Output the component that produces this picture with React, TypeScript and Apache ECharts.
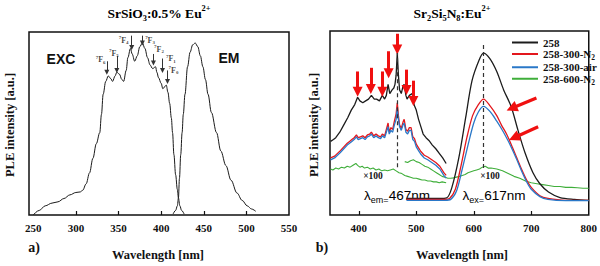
import { useEffect, useRef } from 'react';
import * as echarts from 'echarts';

const SERIF = '"Liberation Serif", "Times New Roman", serif';
const SANS = '"Liberation Sans", Arial, sans-serif';
const INK = '#111111';

// ---------- panel a: SrSiO3:0.5% Eu2+ ----------
const TICKS_A = [250, 300, 350, 400, 450, 500, 550];
const INNER_TICKS_A = [300, 350, 400, 450, 500];

// excitation spectrum [wavelength nm, intensity]
const EXC_A: [number, number][] = [
  [250, 0], [257, 2.5], [264, 5], [272, 6.5], [279, 7.2], [286, 9], [293, 11], [300, 12.3],
  [305, 12.6], [308, 13.5], [312, 17], [316, 23], [320, 31], [324, 39], [328, 45], [330, 55],
  [332, 66], [335, 73], [338, 76], [341, 74.5], [343, 73], [346, 76], [348, 78], [351, 77],
  [354, 74], [356, 73], [359, 79], [361, 86], [364, 91], [366, 88], [369, 84], [372, 87],
  [375, 92], [378, 94], [381, 91], [384, 86], [387, 82], [390, 80], [393.5, 81], [395, 78],
  [397, 75], [400, 72], [402, 69], [404, 70], [406, 71], [408, 67], [410, 61], [412, 53],
  [413.4, 45], [415, 33], [417, 22], [419, 14], [420.3, 9.3], [422, 5], [424, 2.5], [427, 0.5],
];

// emission spectrum [wavelength nm, intensity]
const EM_A: [number, number][] = [
  [414, 0.5], [417, 2.5], [419, 5], [420.3, 9.3], [421.5, 20], [423, 33], [424.6, 45], [426, 55],
  [428, 66], [431, 81], [434, 89], [437, 93], [440, 94], [443, 92], [446, 87], [449, 81],
  [452, 74], [455, 66], [459, 56], [465, 45], [470, 35], [476, 27], [482, 19], [489, 12],
  [495, 8], [501, 5], [506, 3.3], [511, 2],
];

// 7F_J arrows: [wavelength, top, tip]
const F_ARROWS_A: [number, number, number][] = [
  [336.3, 84, 78], [348, 87, 79], [365.5, 98, 91.5], [378, 98, 94], [391, 88, 83], [401.6, 85.5, 79], [407.5, 79, 73],
];
// 7F_J labels: [wavelength, height, J]
const F_LABELS_A: [number, number, string][] = [
  [329, 84.7, '6'], [344.5, 88.5, '5'], [356, 95.5, '4'], [387, 95.6, '3'], [397.5, 90.5, '2'], [411.5, 85.5, '1'], [414.5, 79, '0'],
];

// ---------- panel b: Sr2Si5N8:Eu2+ ----------
const TICKS_B = [400, 500, 600, 700, 800];
const INNER_TICKS_B = [400, 500, 600, 700];

const SAMPLES = ['258', '258-300-N2', '258-300-air', '258-600-N2'];
const SAMPLE_COLORS = ['#1c1c1c', '#e3171d', '#2a78c8', '#3fae3a'];

const EXC_258: [number, number][] = [
  [351, 40], [356, 41], [360, 42], [367, 45], [374, 49], [381, 53], [387, 57], [393, 60],
  [398, 64], [402, 62], [407, 61], [412, 62], [417, 63], [422, 65], [427, 63], [431, 63],
  [436, 62], [441, 65], [445, 63], [448, 65], [451, 71], [454, 66], [458, 68], [461, 69],
  [463, 71], [465, 76], [467, 88], [469, 76], [471, 68], [474, 66], [477, 70], [479, 71],
  [482, 65], [484, 63], [488, 65], [493, 66], [496, 60], [500, 57], [504, 52], [508, 48],
  [512, 44], [517, 42], [522, 40.5], [528, 38], [534, 36], [540, 33.5], [546, 31], [552, 28],
];
const EM_258: [number, number][] = [
  [483, 9], [500, 9], [520, 9], [540, 9], [553, 9.3], [562, 15], [574, 31], [586, 53],
  [597, 73], [609, 84], [617, 88], [628, 85], [640, 78], [652, 68], [665, 59], [677, 46],
  [689, 34], [703, 23], [715, 17], [730, 12.5], [750, 9.5], [775, 8.5], [800, 8],
];
const EXC_300N2: [number, number][] = [
  [351, 31], [358, 32], [363, 33.5], [368, 35], [374, 37], [380, 39], [384, 40], [388, 41],
  [392, 42], [396, 43.5], [399, 42], [403, 42.5], [407, 43], [411, 42], [415, 43.5], [419, 44],
  [422, 45], [426, 43], [430, 44], [434, 43], [438, 42.5], [441, 44], [445, 43], [448, 46.5],
  [451, 50], [453, 45], [456, 47.5], [459, 46.5], [462, 51], [465, 55], [467, 61], [469, 54],
  [471, 49], [474, 47], [477, 50.5], [479, 52], [482, 46.5], [485, 45.5], [488, 47.5], [491, 47.5],
  [494, 42.5], [497, 41.5], [500, 38.5], [504, 36.5], [508, 34.5], [514, 32.5], [520, 31.5],
  [527, 30], [534, 28.5], [541, 26.5], [548, 23], [552, 21.5],
];
const EM_300N2: [number, number][] = [
  [483, 8.5], [520, 8.5], [550, 8.5], [558, 9], [568, 14], [578, 27], [588, 42], [598, 54],
  [608, 60], [617, 63], [629, 59], [640, 54], [648, 49], [657, 44], [665, 38.5], [675, 31],
  [683, 25], [692, 19], [700, 15], [715, 10.5], [729, 9], [760, 8], [800, 8],
];
const EXC_300AIR: [number, number][] = [
  [351, 30], [358, 31], [363, 32.5], [368, 34], [374, 36], [380, 38], [384, 39], [388, 40],
  [392, 41], [396, 42.5], [399, 41], [403, 41.5], [407, 42], [411, 41], [415, 42.5], [419, 43],
  [422, 44], [426, 42], [430, 43], [434, 42], [438, 41.5], [441, 43], [445, 42], [448, 45],
  [451, 48], [453, 44], [456, 46], [459, 45], [462, 49], [465, 52], [467, 58], [469, 52],
  [471, 48], [474, 46], [477, 49], [479, 50], [482, 45], [485, 44], [488, 46], [491, 46],
  [494, 41], [497, 40], [500, 37], [504, 35], [508, 33], [514, 31], [520, 30], [527, 28.5],
  [534, 27], [541, 25], [548, 21.5], [552, 20],
];
const EM_300AIR: [number, number][] = [
  [483, 8], [520, 8], [550, 8], [560, 8.5], [570, 13], [580, 25], [590, 38], [600, 50],
  [608, 56], [617, 59], [629, 56], [640, 51], [648, 47], [657, 42], [665, 37], [675, 30],
  [683, 24], [692, 18], [700, 14], [715, 10], [729, 8.5], [760, 7.8], [800, 7.8],
];
const EXC_600N2: [number, number][] = [
  [351, 25], [355, 24.5], [360, 25.5], [365, 25], [370, 26], [375, 25.5], [380, 26.5], [385, 26],
  [390, 27], [395, 28], [398, 27], [402, 26], [406, 26.5], [410, 25.5], [415, 26], [420, 25],
  [425, 25.5], [430, 24.5], [435, 25], [440, 24], [445, 24.5], [450, 24], [455, 24.5], [460, 25],
  [465, 24], [470, 23], [475, 22.5], [480, 21.5], [485, 21], [490, 20.5], [495, 20], [500, 20],
  [505, 19.5], [510, 19], [515, 19], [520, 18.5], [525, 18.5], [530, 18], [535, 18], [540, 17.5],
  [545, 18], [552, 17.5],
];
const EM_600N2: [number, number][] = [
  [480, 29], [485, 28.5], [490, 29.5], [495, 30], [500, 29], [505, 28.5], [510, 27.5], [515, 26.5],
  [520, 26], [525, 25], [530, 24], [535, 23], [540, 22], [545, 21], [550, 20.5], [555, 20],
  [560, 20], [565, 20.2], [570, 20.6], [575, 21], [580, 21.5], [585, 22], [590, 23], [595, 23.5],
  [600, 24], [605, 24.5], [610, 25], [615, 26], [620, 26.5], [625, 25.5], [630, 25.5], [640, 25],
  [650, 24], [660, 22.5], [670, 21], [680, 20], [690, 18.5], [700, 17.5], [710, 17], [720, 16.5],
  [730, 16], [740, 15.5], [750, 15.5], [760, 15], [770, 15], [780, 14.8], [790, 14.5], [800, 14.5],
];

const EM_LAMBDA = 467; // monitored emission wavelength
const EX_LAMBDA = 617; // excitation wavelength
const EM_GUIDE: [number, number] = [26, 88];
const EX_GUIDE: [number, number] = [25.5, 94];

// red markers: [wavelength, top, tip]
const RED_DOWN_ARROWS: [number, number, number][] = [
  [398, 78, 67], [421, 80, 68.5], [441, 78, 67], [452, 89, 77], [467, 98.5, 90], [483, 79, 68], [495, 73, 62],
];
// red markers: [tail x, tail y, tip x, tip y]
const RED_SIDE_ARROWS: [number, number, number, number][] = [
  [709, 63.6, 666, 58],
  [712, 48, 670, 42],
];

const bold = { fontFamily: SERIF, fontWeight: 'bold' as const, fill: INK };

const scriptRich = (size: number, lh: number) => ({
  t: { fontFamily: SERIF, fontWeight: 'bold', fontSize: size, lineHeight: lh, color: INK },
  sub: { fontFamily: SERIF, fontWeight: 'bold', fontSize: size * 0.62, lineHeight: lh, verticalAlign: 'bottom', color: INK },
  sup: { fontFamily: SERIF, fontWeight: 'bold', fontSize: size * 0.62, lineHeight: lh, verticalAlign: 'top', color: INK },
});

const lambdaRich = {
  b: { fontFamily: SANS, fontSize: 13.5, lineHeight: 18, color: INK },
  s: { fontFamily: SANS, fontSize: 9, lineHeight: 18, verticalAlign: 'bottom', color: INK },
};

function lineSeries(name: string, color: string, data: [number, number][], extra: any = {}) {
  return {
    type: 'line',
    name,
    xAxisIndex: 1,
    yAxisIndex: 1,
    data,
    showSymbol: false,
    symbol: 'none',
    color,
    lineStyle: { color, width: 1.3 },
    silent: true,
    ...extra,
  };
}

export default function App() {
  const ref = useRef<HTMLDivElement>(null);

  useEffect(() => {
    if (!ref.current) return;
    const chart = echarts.init(ref.current, null, { renderer: 'svg' });

    const axisX = (grid: number, min: number, max: number, labels: number[], ticks: number[]) => ({
      type: 'value',
      gridIndex: grid,
      min,
      max,
      axisLine: { show: false },
      splitLine: { show: false },
      axisTick: { show: true, inside: true, length: 4, customValues: ticks, lineStyle: { color: INK, width: 1.2 } },
      axisLabel: { customValues: labels, margin: 7, fontFamily: SERIF, fontWeight: 'bold', fontSize: 11, color: INK },
    });
    const axisY = (grid: number) => ({ type: 'value', gridIndex: grid, min: 0, max: 100, show: false });

    const arrowLine = (coords: [number, number, number, number][], color: string, width: number, size: number) => ({
      silent: true,
      symbol: ['none', 'triangle'],
      symbolSize: size,
      label: { show: false },
      emphasis: { disabled: true },
      lineStyle: { color, width, type: 'solid' },
      itemStyle: { color },
      data: coords.map(([x1, y1, x2, y2]) => [{ coord: [x1, y1] }, { coord: [x2, y2] }]),
    });

    const sampleColor = (n: string) => SAMPLE_COLORS[SAMPLES.indexOf(n)];

    chart.setOption({
      animation: false,
      backgroundColor: '#ffffff',
      grid: [
        { left: 29, top: 32, width: 260, height: 183, show: true, borderColor: INK, borderWidth: 1.5 },
        { left: 330, top: 31, width: 260, height: 184, show: true, borderColor: INK, borderWidth: 1.5 },
      ],
      xAxis: [axisX(0, 245, 550, TICKS_A, INNER_TICKS_A), axisX(1, 350, 800, TICKS_B, INNER_TICKS_B)],
      yAxis: [axisY(0), axisY(1)],
      legend: {
        data: SAMPLES,
        left: 507,
        top: 32,
        orient: 'vertical',
        icon: 'rect',
        itemWidth: 26,
        itemHeight: 2,
        itemGap: 0.5,
        selectedMode: false,
        formatter: (n: string) => (n.endsWith('N2') ? `{n|${n.slice(0, -1)}}{s|2}` : `{n|${n}}`),
        textStyle: {
          rich: {
            n: { fontFamily: SERIF, fontWeight: 'bold', fontSize: 11, lineHeight: 14.5, color: INK },
            s: { fontFamily: SERIF, fontWeight: 'bold', fontSize: 7.5, lineHeight: 14.5, verticalAlign: 'bottom', color: INK },
          },
        },
      },
      series: [
        // panel a
        {
          type: 'line', name: 'EXC', xAxisIndex: 0, yAxisIndex: 0, data: EXC_A,
          smooth: 0.35, smoothMonotone: 'x', showSymbol: false, symbol: 'none', silent: true,
          lineStyle: { color: '#1a1a1a', width: 1 },
          markLine: arrowLine(F_ARROWS_A.map(([x, t, p]) => [x, t, x, p]), '#333333', 1, 5),
        },
        {
          type: 'line', name: 'EM', xAxisIndex: 0, yAxisIndex: 0, data: EM_A,
          smooth: 0.35, smoothMonotone: 'x', showSymbol: false, symbol: 'none', silent: true,
          lineStyle: { color: '#1a1a1a', width: 1 },
        },
        {
          type: 'scatter', name: 'levels', xAxisIndex: 0, yAxisIndex: 0, silent: true,
          data: F_LABELS_A, symbolSize: 1, itemStyle: { color: 'rgba(0,0,0,0)' },
          label: {
            show: true, position: 'inside',
            formatter: (p: any) => `{sup|7}{t|F}{sub|${p.data[2]}}`,
            rich: scriptRich(8, 10),
          },
        },
        // panel b
        lineSeries(SAMPLES[3], sampleColor(SAMPLES[3]), EXC_600N2, { lineStyle: { color: sampleColor(SAMPLES[3]), width: 1.1 } }),
        lineSeries(SAMPLES[3], sampleColor(SAMPLES[3]), EM_600N2, { lineStyle: { color: sampleColor(SAMPLES[3]), width: 1.1 } }),
        lineSeries(SAMPLES[0], sampleColor(SAMPLES[0]), EXC_258, {
          markLine: arrowLine(RED_DOWN_ARROWS.map(([x, t, p]) => [x, t, x, p]), '#f01010', 3, 10),
        }),
        lineSeries(SAMPLES[0], sampleColor(SAMPLES[0]), EM_258, {
          smooth: 0.3,
          markLine: {
            silent: true, symbol: 'none', label: { show: false }, emphasis: { disabled: true },
            lineStyle: { color: '#333333', width: 1.2, type: [4, 3] },
            data: [
              [{ coord: [EM_LAMBDA, EM_GUIDE[0]] }, { coord: [EM_LAMBDA, EM_GUIDE[1]] }],
              [{ coord: [EX_LAMBDA, EX_GUIDE[0]] }, { coord: [EX_LAMBDA, EX_GUIDE[1]] }],
            ],
          },
        }),
        lineSeries(SAMPLES[1], sampleColor(SAMPLES[1]), EXC_300N2),
        lineSeries(SAMPLES[1], sampleColor(SAMPLES[1]), EM_300N2, {
          smooth: 0.3,
          markLine: arrowLine(RED_SIDE_ARROWS, '#f01010', 3.2, 11),
        }),
        lineSeries(SAMPLES[2], sampleColor(SAMPLES[2]), EXC_300AIR),
        lineSeries(SAMPLES[2], sampleColor(SAMPLES[2]), EM_300AIR, { smooth: 0.3 }),
      ],
      graphic: [
        { type: 'text', x: 159, y: 13, style: { text: '{t|SrSiO}{sub|3}{t|:0.5% Eu}{sup|2+}', rich: scriptRich(13.5, 18), align: 'center', verticalAlign: 'middle' } },
        { type: 'text', x: 452, y: 13, style: { text: '{t|Sr}{sub|2}{t|Si}{sub|5}{t|N}{sub|8}{t|:Eu}{sup|2+}', rich: scriptRich(13.5, 18), align: 'center', verticalAlign: 'middle' } },
        { type: 'text', x: 10, y: 125, rotation: Math.PI / 2, style: { ...bold, text: 'PLE intensity [a.u.]', fontSize: 12.5, align: 'center', verticalAlign: 'middle' } },
        { type: 'text', x: 314, y: 125, rotation: Math.PI / 2, style: { ...bold, text: 'PLE intensity [a.u.]', fontSize: 12.5, align: 'center', verticalAlign: 'middle' } },
        { type: 'text', x: 158, y: 255, style: { ...bold, text: 'Wavelength [nm]', fontSize: 12.5, align: 'center', verticalAlign: 'middle' } },
        { type: 'text', x: 462, y: 255, style: { ...bold, text: 'Wavelength [nm]', fontSize: 12.5, align: 'center', verticalAlign: 'middle' } },
        { type: 'text', x: 34, y: 247, style: { ...bold, text: 'a)', fontSize: 14, align: 'center', verticalAlign: 'middle' } },
        { type: 'text', x: 322, y: 247, style: { ...bold, text: 'b)', fontSize: 14, align: 'center', verticalAlign: 'middle' } },
        { type: 'text', x: 61, y: 59, style: { text: 'EXC', fontFamily: SANS, fontWeight: 'bold', fontSize: 14, fill: INK, align: 'center', verticalAlign: 'middle' } },
        { type: 'text', x: 229, y: 58, style: { text: 'EM', fontFamily: SANS, fontWeight: 'bold', fontSize: 14, fill: INK, align: 'center', verticalAlign: 'middle' } },
        { type: 'text', x: 373, y: 176, style: { ...bold, text: '×100', fontSize: 9.5, align: 'center', verticalAlign: 'middle' } },
        { type: 'text', x: 490, y: 176, style: { ...bold, text: '×100', fontSize: 9.5, align: 'center', verticalAlign: 'middle' } },
        { type: 'text', x: 397, y: 195, style: { text: `{b|λ}{s|em=}{b|${EM_LAMBDA}nm}`, rich: lambdaRich, align: 'center', verticalAlign: 'middle' } },
        { type: 'text', x: 494, y: 195, style: { text: `{b|λ}{s|ex=}{b|${EX_LAMBDA}nm}`, rich: lambdaRich, align: 'center', verticalAlign: 'middle' } },
      ],
    });

    return () => chart.dispose();
  }, []);

  return <div ref={ref} style={{ position: 'fixed', left: 0, top: 0, width: 600, height: 266, background: '#fff' }} />;
}
